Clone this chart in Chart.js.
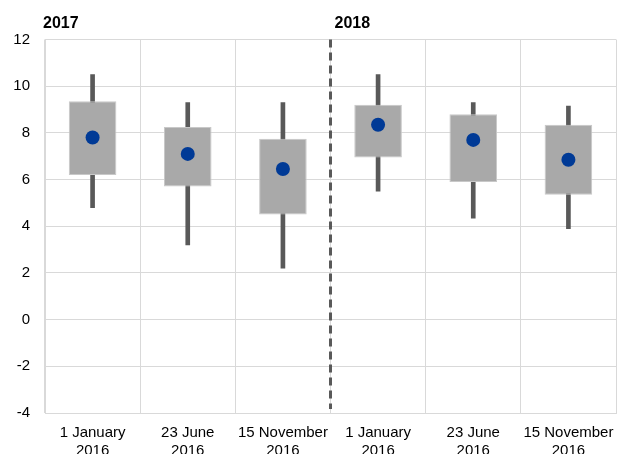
<!DOCTYPE html>
<html>
<head>
<meta charset="utf-8">
<script src="https://cdn.jsdelivr.net/npm/chart.js@4/dist/chart.umd.min.js"></script>
<style>
  html, body { margin: 0; padding: 0; background: #fff; }
  #wrap { width: 617px; height: 454px; position: relative; }
</style>
</head>
<body>
<div id="wrap"><canvas id="c" width="617" height="454"></canvas></div>
<script>
const categories = [
  ['1 January', '2016'], ['23 June', '2016'], ['15 November', '2016'],
  ['1 January', '2016'], ['23 June', '2016'], ['15 November', '2016']
];
const groupLabels = ['2017', '2018'];
const whiskerLow  = [4.8, 3.2, 2.2, 5.5, 4.35, 3.9];
const whiskerHigh = [10.5, 9.3, 9.3, 10.5, 9.3, 9.15];
const boxLow      = [6.2, 5.7, 4.5, 6.95, 5.9, 5.35];
const boxHigh     = [9.35, 8.25, 7.75, 9.2, 8.8, 8.35];
const midValues   = [7.8, 7.1, 6.45, 8.35, 7.7, 6.85];
const yTicks = { min: -4, max: 12, step: 2 };

const FONT = 'Liberation Sans, Arial, sans-serif';

const dividerPlugin = {
  id: 'divider',
  afterDatasetsDraw(chart) {
    const { ctx, chartArea, scales } = chart;
    const x = (scales.x.getPixelForValue(2) + scales.x.getPixelForValue(3)) / 2;
    ctx.save();
    ctx.strokeStyle = '#595959';
    ctx.lineWidth = 3;
    ctx.setLineDash([8, 5]);
    ctx.beginPath();
    ctx.moveTo(x, chartArea.top);
    ctx.lineTo(x, chartArea.bottom - 4);
    ctx.stroke();
    ctx.setLineDash([]);
    ctx.fillStyle = '#000';
    ctx.font = 'bold 16px ' + FONT;
    ctx.textBaseline = 'middle';
    ctx.textAlign = 'left';
    ctx.fillText(groupLabels[0], chartArea.left - 2, 24);
    ctx.fillText(groupLabels[1], x + 4, 24);
    ctx.restore();
  }
};

new Chart(document.getElementById('c'), {
  type: 'bar',
  data: {
    labels: categories,
    datasets: [
      {
        type: 'line',
        data: midValues,
        showLine: false,
        pointRadius: 7,
        pointHoverRadius: 7,
        pointBackgroundColor: '#003A96',
        pointBorderColor: '#003A96',
        pointBorderWidth: 0,
        order: 0
      },
      {
        data: boxLow.map((v, i) => [v, boxHigh[i]]),
        backgroundColor: '#a9a9a9',
        borderColor: '#c8c8c8',
        borderWidth: 1,
        borderSkipped: false,
        grouped: false,
        categoryPercentage: 1,
        barPercentage: 0.5,
        order: 1
      },
      {
        data: whiskerLow.map((v, i) => [v, whiskerHigh[i]]),
        backgroundColor: '#595959',
        borderWidth: 0,
        grouped: false,
        barThickness: 4,
        order: 2
      }
    ]
  },
  options: {
    responsive: false,
    animation: false,
    devicePixelRatio: 1,
    layout: { autoPadding: false, padding: { top: 39.5, right: 1, left: 0, bottom: 0 } },
    plugins: { legend: { display: false }, tooltip: { enabled: false } },
    scales: {
      x: {
        offset: true,
        grid: { color: '#d9d9d9', lineWidth: 1, drawTicks: false, offset: true },
        border: { color: '#d9d9d9' },
        ticks: {
          color: '#000',
          font: { family: FONT, size: 15 },
          padding: 11,
          maxRotation: 0, minRotation: 0, autoSkip: false
        },
        afterFit(scale) {
          scale.height = 41;
          scale.paddingLeft = 0;
          scale.paddingRight = 0;
        }
      },
      y: {
        min: yTicks.min, max: yTicks.max,
        grid: { color: '#d9d9d9', lineWidth: 1, drawTicks: false },
        border: { color: '#d9d9d9' },
        ticks: {
          stepSize: yTicks.step,
          color: '#000',
          font: { family: FONT, size: 15 },
          padding: 15
        },
        afterFit(scale) {
          scale.width = 45;
          scale.paddingTop = 0;
          scale.paddingBottom = 0;
        }
      }
    }
  },
  plugins: [dividerPlugin]
});
</script>
</body>
</html>
